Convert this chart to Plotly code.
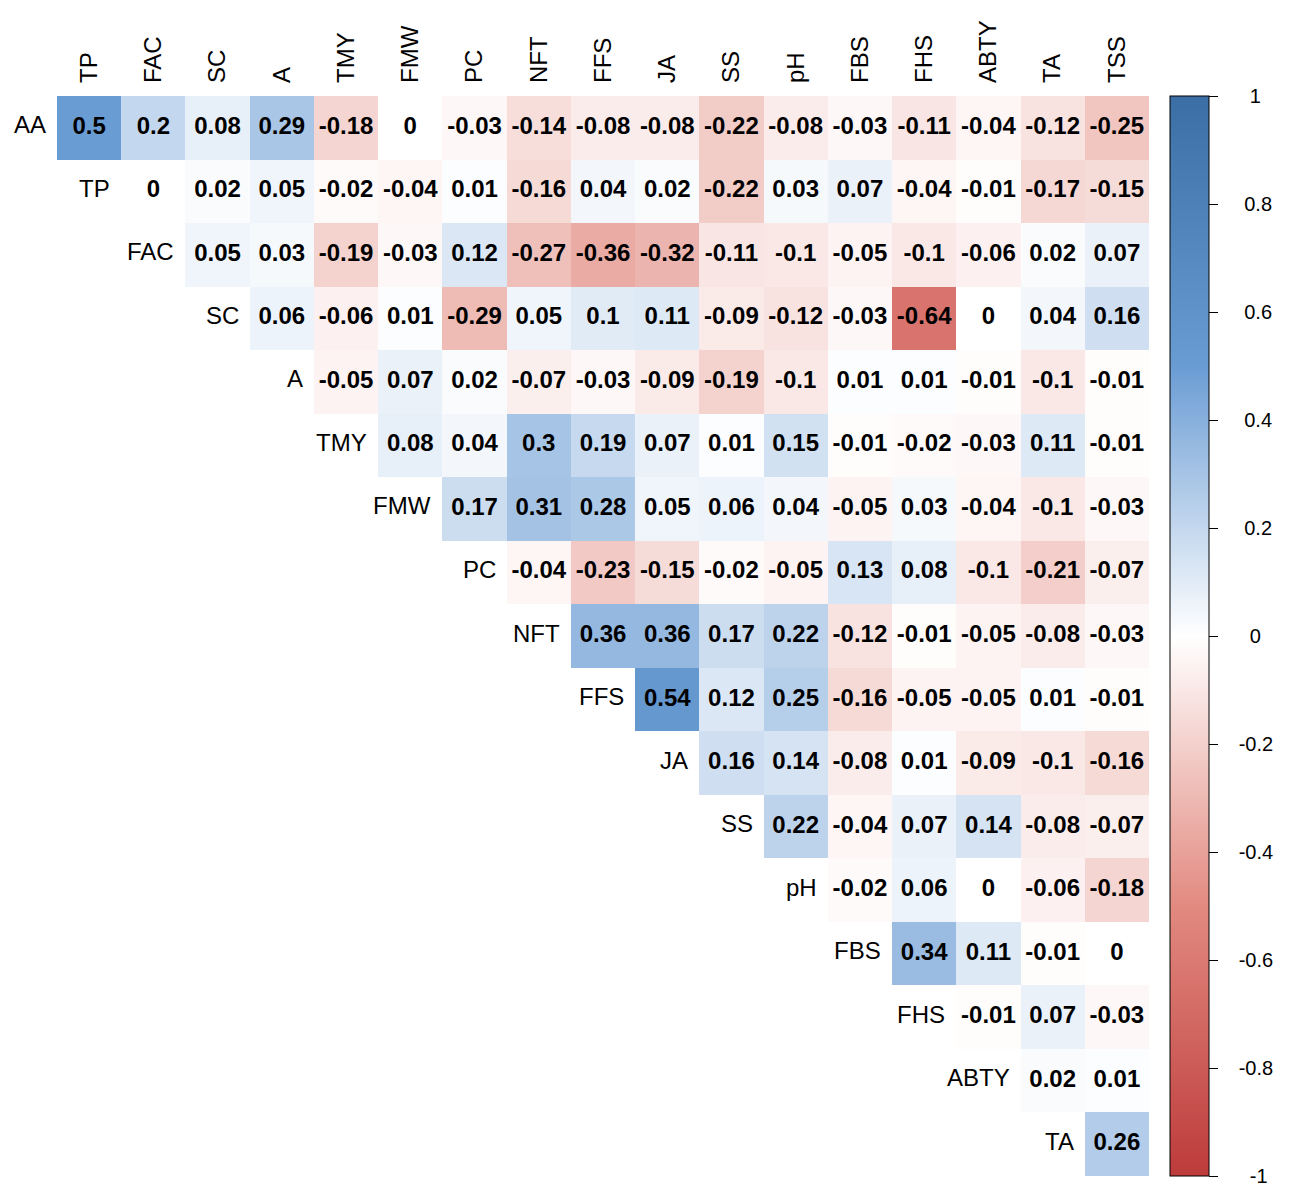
import plotly.graph_objects as go

rows = ["AA", "TP", "FAC", "SC", "A", "TMY", "FMW", "PC", "NFT", "FFS", "JA",
        "SS", "pH", "FBS", "FHS", "ABTY", "TA"]
cols = ["TP", "FAC", "SC", "A", "TMY", "FMW", "PC", "NFT", "FFS", "JA", "SS",
        "pH", "FBS", "FHS", "ABTY", "TA", "TSS"]

# upper-triangle correlation values, row by row (row i starts at column i)
r_AA = [0.5, 0.2, 0.08, 0.29, -0.18, 0, -0.03, -0.14, -0.08, -0.08, -0.22, -0.08, -0.03, -0.11, -0.04, -0.12, -0.25]
r_TP = [0, 0.02, 0.05, -0.02, -0.04, 0.01, -0.16, 0.04, 0.02, -0.22, 0.03, 0.07, -0.04, -0.01, -0.17, -0.15]
r_FAC = [0.05, 0.03, -0.19, -0.03, 0.12, -0.27, -0.36, -0.32, -0.11, -0.1, -0.05, -0.1, -0.06, 0.02, 0.07]
r_SC = [0.06, -0.06, 0.01, -0.29, 0.05, 0.1, 0.11, -0.09, -0.12, -0.03, -0.64, 0, 0.04, 0.16]
r_A = [-0.05, 0.07, 0.02, -0.07, -0.03, -0.09, -0.19, -0.1, 0.01, 0.01, -0.01, -0.1, -0.01]
r_TMY = [0.08, 0.04, 0.3, 0.19, 0.07, 0.01, 0.15, -0.01, -0.02, -0.03, 0.11, -0.01]
r_FMW = [0.17, 0.31, 0.28, 0.05, 0.06, 0.04, -0.05, 0.03, -0.04, -0.1, -0.03]
r_PC = [-0.04, -0.23, -0.15, -0.02, -0.05, 0.13, 0.08, -0.1, -0.21, -0.07]
r_NFT = [0.36, 0.36, 0.17, 0.22, -0.12, -0.01, -0.05, -0.08, -0.03]
r_FFS = [0.54, 0.12, 0.25, -0.16, -0.05, -0.05, 0.01, -0.01]
r_JA = [0.16, 0.14, -0.08, 0.01, -0.09, -0.1, -0.16]
r_SS = [0.22, -0.04, 0.07, 0.14, -0.08, -0.07]
r_pH = [-0.02, 0.06, 0, -0.06, -0.18]
r_FBS = [0.34, 0.11, -0.01, 0]
r_FHS = [-0.01, 0.07, -0.03]
r_ABTY = [0.02, 0.01]
r_TA = [0.26]

row_values = [r_AA, r_TP, r_FAC, r_SC, r_A, r_TMY, r_FMW, r_PC, r_NFT, r_FFS,
              r_JA, r_SS, r_pH, r_FBS, r_FHS, r_ABTY, r_TA]

cbar_vals = [1, 0.8, 0.6, 0.4, 0.2, 0, -0.2, -0.4, -0.6, -0.8, -1]

n = len(cols)
z = []
tx, ty, tt = [], [], []
for i, vals in enumerate(row_values):
    line = [None] * n
    for k, v in enumerate(vals):
        j = i + k
        line[j] = v
        tx.append(j)
        ty.append(i)
        tt.append(f"{round(v, 2):g}")
    z.append(line)

colorscale = [
    [0.0, "#BD3B3B"],
    [0.25, "#E28A80"],
    [0.5, "#FFFFFF"],
    [0.75, "#6A9CD4"],
    [1.0, "#3B6EA5"],
]

FONT = "Liberation Sans, Arial, sans-serif"


def lab_w(s):
    w = 0
    for ch in s:
        w += {"-": 0.333, ".": 0.278}.get(ch, 0.556)
    return w


cb_labels = [f"{v:g}" for v in cbar_vals]
wmax = max(lab_w(s) for s in cb_labels)
cb_text = ["\u00a0" * (3 + int(round((wmax - lab_w(s)) / 2 / 0.278))) + s for s in cb_labels]

fig = go.Figure()
fig.add_trace(go.Heatmap(
    x=list(range(n)), y=list(range(len(rows))), z=z,
    zmin=-1, zmax=1, colorscale=colorscale, hoverongaps=False,
    colorbar=dict(
        x=1.0192, xanchor="left", xpad=0, y=0.5, yanchor="middle", ypad=0,
        len=1, lenmode="fraction", thickness=39, thicknessmode="pixels",
        outlinecolor="black", outlinewidth=1,
        ticks="outside", ticklen=9, tickwidth=1, tickcolor="black",
        tickvals=cbar_vals, ticktext=cb_text,
        tickfont=dict(family=FONT, size=20, color="black"),
    ),
))

fig.add_trace(go.Scatter(
    x=tx, y=ty, text=tt, mode="text", hoverinfo="skip", showlegend=False,
    textposition="middle center",
    textfont=dict(family=FONT, size=24, color="black", weight="bold"),
))

annotations = []
for i, name in enumerate(rows):
    annotations.append(dict(
        x=i - 0.5, y=i, xref="x", yref="y", text=name, showarrow=False,
        xanchor="right", yanchor="middle", xshift=-9, yshift=3,
        font=dict(family=FONT, size=24, color="black"),
    ))

fig.update_layout(
    width=1284, height=1180,
    margin=dict(l=49, r=143, t=80, b=12),
    paper_bgcolor="white", plot_bgcolor="white",
    annotations=annotations,
    xaxis=dict(
        range=[-0.5, n - 0.5], side="top", tickvals=list(range(n)), ticktext=cols,
        tickangle=-90, ticks="", showgrid=False, zeroline=False, showline=False,
        tickfont=dict(family=FONT, size=24, color="black"), ticklabelstandoff=12,
        fixedrange=True,
    ),
    yaxis=dict(
        range=[len(rows) - 0.5, -0.5], showticklabels=False, ticks="",
        showgrid=False, zeroline=False, showline=False, fixedrange=True,
    ),
    showlegend=False,
)

fig.write_html("out.html")
